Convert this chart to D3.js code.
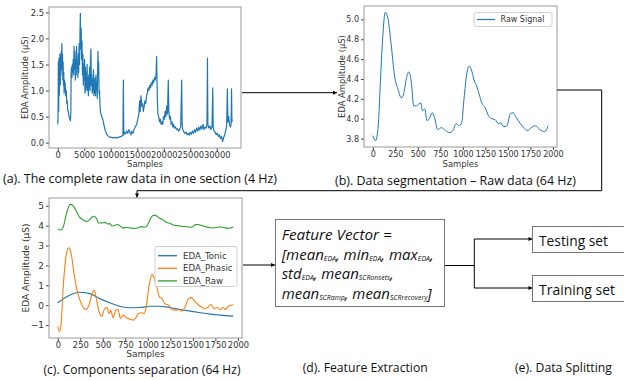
<!DOCTYPE html>
<html>
<head>
<meta charset="utf-8">
<script src="https://cdn.jsdelivr.net/npm/d3@7"></script>
<style>
  body { margin: 0; background: #fff; }
  svg { display: block; }
</style>
</head>
<body>
<div id="fig"></div>
<script>
// (a) whole record, 4 Hz  [sample, µS]
var fullRecord = [
  [0,0.35],[60,0.5],[120,1.55],[180,0.6],[240,1.62],[300,0.9],[360,1.45],[420,1.7],[480,1.1],[540,1.65],
  [600,1.3],[660,1.75],[720,1.5],[780,1.9],[840,1.4],[900,1.7],[960,1.2],[1020,1.55],[1080,1.1],[1140,1.35],
  [1200,0.95],[1260,1.2],[1320,1.0],[1400,1.15],[1500,0.9],[1600,1.0],[1700,0.75],[1800,0.8],[1900,0.62],[2000,0.6],
  [2100,0.52],[2200,0.48],[2300,0.45],[2400,0.42],[2480,0.6],[2520,1.3],[2600,1.45],[2680,1.25],[2760,1.5],[2840,1.35],
  [2920,1.6],[3000,1.3],[3080,1.85],[3160,1.4],[3240,1.75],[3320,1.2],[3400,1.6],[3480,1.3],[3560,1.85],[3640,1.45],
  [3720,1.55],[3800,1.25],[3880,1.7],[3960,1.35],[4040,1.9],[4120,1.5],[4200,2.1],[4270,2.48],[4340,1.8],[4420,2.2],
  [4500,1.6],[4580,1.95],[4660,1.3],[4740,1.7],[4820,1.1],[4900,1.5],[4980,1.2],[5060,1.6],[5140,0.95],[5220,1.45],
  [5300,1.0],[5380,1.35],[5460,1.05],[5540,1.5],[5620,1.0],[5700,1.25],[5780,0.9],[5860,1.3],[5940,1.05],[6020,1.45],
  [6100,1.0],[6180,1.6],[6260,1.8],[6340,1.1],[6420,1.3],[6500,0.95],[6580,1.2],[6660,1.0],[6740,1.4],[6820,0.9],
  [6900,1.2],[6980,0.95],[7060,1.25],[7140,0.9],[7220,1.3],[7300,1.0],[7380,1.15],[7460,0.85],[7540,1.45],[7600,1.75],
  [7660,1.3],[7720,1.55],[7800,0.95],[7880,1.0],[7960,0.75],[8040,0.6],[8150,0.55],[8300,0.5],[8500,0.45],[8700,0.35],
  [8900,0.25],[9100,0.2],[9300,0.15],[9600,0.12],[9900,0.1],[10200,0.1],[10500,0.09],[10800,0.1],[11100,0.09],[11400,0.1],
  [11700,0.11],[12000,0.12],[12300,0.14],[12380,1.2],[12460,0.15],[12600,0.2],[12800,0.17],[13000,0.22],[13200,0.18],[13400,0.25],
  [13600,0.2],[13800,0.15],[14000,0.22],[14200,0.18],[14400,0.25],[14600,0.3],[14900,0.35],[15100,0.45],[15300,0.55],[15450,0.8],
  [15550,0.6],[15700,0.9],[15850,0.7],[16000,0.75],[16150,0.6],[16300,0.7],[16450,0.8],[16600,0.75],[16750,0.9],[16900,0.95],
  [17050,1.05],[17200,1.0],[17350,1.1],[17500,1.05],[17650,1.15],[17800,1.1],[17950,1.2],[18100,1.15],[18250,1.25],[18400,1.2],
  [18550,1.3],[18650,1.65],[18720,1.25],[18800,0.8],[18900,0.55],[19050,0.5],[19200,0.4],[19350,0.45],[19500,0.35],[19650,0.4],
  [19800,0.35],[19950,0.5],[20100,0.45],[20250,0.6],[20400,0.5],[20550,0.7],[20700,0.55],[20850,1.2],[20950,0.6],[21100,0.45],
  [21250,0.5],[21400,0.35],[21550,0.4],[21700,0.3],[21850,0.35],[22000,0.28],[22200,0.3],[22400,0.25],[22600,0.27],[22800,0.22],
  [23000,0.25],[23200,0.3],[23380,1.2],[23460,0.35],[23600,0.25],[23800,0.2],[24000,0.18],[24200,0.2],[24400,0.15],[24600,0.18],
  [24800,0.14],[25000,0.2],[25200,0.16],[25400,0.22],[25600,0.18],[25800,0.25],[26000,0.2],[26200,0.28],[26400,0.22],[26600,0.3],
  [26800,0.24],[27000,0.32],[27200,0.26],[27400,0.35],[27600,0.25],[27800,0.3],[28000,0.28],[28150,0.35],[28240,1.62],[28320,0.35],
  [28500,0.28],[28700,0.32],[28900,0.25],[29100,0.3],[29240,1.05],[29320,0.3],[29500,0.22],[29700,0.2],[29900,0.15],[30100,0.18],
  [30300,0.12],[30500,0.15],[30700,0.08],[30900,0.12],[31100,0.02],[31300,0.1],[31500,0.15],[31700,0.25],[31850,0.3],[32000,1.03],
  [32100,0.4],[32250,0.5],[32400,0.35],[32550,0.3],[32700,0.35],[32780,1.03],[32850,0.4],[32920,0.45]
];

// (b)/(c) one segment, 64 Hz
var segIdx = [0,30,56,93,112,138,168,205,242,279,317,343,372,398,428,454,484,514,533,551,
  577,603,633,659,689,719,763,808,857,894,924,961,987,1013,1043,1069,1099,1128,1154,1180,
  1210,1248,1285,1322,1359,1397,1423,1452,1490,1527,1557,1594,1639,1676,1720,1758,1806,1855,1907,1948];
var segRaw = [3.83,3.78,3.88,4.53,4.84,5.07,5.01,4.74,4.43,4.30,4.21,4.25,4.40,4.47,4.37,4.13,4.13,4.15,4.16,4.08,
  4.10,3.98,4.01,4.06,4.00,3.89,3.91,3.88,3.86,3.89,3.95,3.93,3.96,4.20,4.45,4.53,4.48,4.38,4.33,4.25,
  4.16,4.11,4.03,4.00,3.99,3.95,3.96,3.92,3.93,4.05,4.06,4.01,3.95,3.91,3.88,3.91,3.93,3.89,3.87,3.93];

var phIdx = [0,19,37,63,93,123,149,186,223,261,309,346,380,402,428,458,488,521,547,570,
  588,614,644,670,696,726,763,801,838,868,894,931,961,987,1017,1047,1073,1099,1128,1158,
  1188,1229,1266,1303,1341,1378,1415,1452,1482,1516,1553,1590,1627,1665,1702,1732,1769,1806,1836,1862,1888,1948];
var phVal = [-1.08,-1.33,-0.92,1.08,2.5,2.88,2.58,1.42,0.58,0.08,-0.22,0,0.58,0.78,0.33,-0.33,-0.55,-0.17,-0.12,-0.42,
  -0.25,-0.63,-0.25,-0.22,-0.67,-0.5,-0.63,-0.7,-0.75,-0.62,-0.42,-0.38,-0.42,0.08,1.08,1.55,1.33,0.92,0.42,0.33,
  0.08,0,-0.22,-0.25,-0.22,-0.3,-0.08,0.33,0.38,0.22,0.05,-0.08,-0.17,-0.12,0.05,-0.17,-0.12,-0.22,-0.12,-0.22,-0.08,0.02];

var toIdx = [0,130,242,354,466,577,689,801,912,1024,1136,1248,1359,1471,1583,1694,1806,1948];
var toVal = [0.12,0.5,0.65,0.58,0.33,0.12,-0.05,-0.13,-0.12,-0.05,-0.05,-0.12,-0.22,-0.3,-0.38,-0.45,-0.5,-0.55];

var aXTicks = [0,5000,10000,15000,20000,25000,30000];
var aYTicks = [0,0.5,1,1.5,2,2.5];
var segXTicks = [0,250,500,750,1000,1250,1500,1750,2000];
var bYTicks = [3.8,4.0,4.2,4.4,4.6,4.8,5.0];
var cYTicks = [-1,0,1,2,3,4,5];
var compNames = ["EDA_Tonic","EDA_Phasic","EDA_Raw"];

var W = 624, H = 380;
var blue = "#1f77b4", orange = "#ff7f0e", green = "#2ca02c";

var svg = d3.select("#fig").append("svg")
    .attr("width", W)
    .attr("height", H)
    .style("font-family", "'DejaVu Sans', sans-serif");

svg.append("defs").append("marker")
    .attr("id", "head")
    .attr("viewBox", "0 0 6 6")
    .attr("refX", 6).attr("refY", 3)
    .attr("markerWidth", 5).attr("markerHeight", 4)
    .attr("markerUnits", "userSpaceOnUse")
    .attr("orient", "auto")
  .append("path")
    .attr("d", "M0,0L6,3L0,6Z")
    .attr("fill", "#000");

// matplotlib-like 5% margins
function padded(ext) {
  var p = (ext[1] - ext[0]) * 0.05;
  return [ext[0] - p, ext[1] + p];
}

function panel(o) {
  var g = svg.append("g");
  var xs = [], ys = [];
  o.series.forEach(function(s) { s.pts.forEach(function(p){ xs.push(p[0]); ys.push(p[1]); }); });

  var x = d3.scaleLinear().domain(padded(d3.extent(xs))).range([o.left, o.right]);
  var y = d3.scaleLinear().domain(padded(d3.extent(ys))).range([o.bottom, o.top]);

  var line = d3.line()
      .x(function(d){ return x(d[0]); })
      .y(function(d){ return y(d[1]); })
      .curve(o.curve || d3.curveLinear);

  o.series.forEach(function(s) {
    g.append("path")
      .datum(s.pts)
      .attr("d", line)
      .attr("fill", "none")
      .attr("stroke", s.color)
      .attr("stroke-width", s.width || 1.1)
      .attr("stroke-linejoin", "round");
  });

  var xa = g.append("g")
      .attr("transform", "translate(0," + o.bottom + ")")
      .call(d3.axisBottom(x).tickValues(o.xTicks).tickSize(3).tickPadding(1).tickFormat(d3.format("d")));
  var ya = g.append("g")
      .attr("transform", "translate(" + o.left + ",0)")
      .call(d3.axisLeft(y).tickValues(o.yTicks).tickSize(3).tickPadding(2).tickFormat(d3.format(o.yFmt)));

  [xa, ya].forEach(function(a) {
    a.select(".domain").remove();
    a.selectAll("line").attr("stroke", "#444");
    a.selectAll("text").attr("fill", "#333").style("font-family", "'DejaVu Sans', sans-serif");
  });
  xa.selectAll("text").style("font-size", o.tickFont + "px");
  ya.selectAll("text").style("font-size", (o.yTickFont || o.tickFont) + "px");

  g.append("rect")
    .attr("x", o.left).attr("y", o.top)
    .attr("width", o.right - o.left).attr("height", o.bottom - o.top)
    .attr("fill", "none")
    .attr("stroke", "#9a9a9a");

  g.append("text")
    .attr("x", (o.left + o.right) / 2)
    .attr("y", o.xLabelY)
    .attr("text-anchor", "middle")
    .style("font-size", o.labelFont + "px")
    .attr("fill", "#333")
    .text("Samples");

  g.append("text")
    .attr("transform", "translate(" + o.yLabelX + "," + (o.top + o.bottom) / 2 + ") rotate(-90)")
    .attr("text-anchor", "middle")
    .attr("dy", "0.35em")
    .style("font-size", o.labelFont + "px")
    .attr("fill", "#333")
    .text("EDA Amplitude (µS)");

  return g;
}

var segPts = d3.zip(segIdx, segRaw);

// (a)
panel({
  left: 49, right: 241, top: 7, bottom: 148,
  series: [{ pts: fullRecord, color: blue, width: 1.2 }],
  xTicks: aXTicks, yTicks: aYTicks, yFmt: ".1f",
  tickFont: 8.4, labelFont: 8.4, xLabelY: 167, yLabelX: 25
});

// (b)
var gb = panel({
  left: 364, right: 557, top: 6, bottom: 147,
  series: [{ pts: segPts, color: blue, width: 1 }],
  curve: d3.curveMonotoneX,
  xTicks: segXTicks, yTicks: bYTicks, yFmt: ".1f",
  tickFont: 8, labelFont: 8.4, xLabelY: 167, yLabelX: 342
});
gb.append("rect").attr("x", 474).attr("y", 12.5).attr("width", 78).attr("height", 14)
  .attr("rx", 2).attr("fill", "#fff").attr("stroke", "#d0d0d0");
gb.append("line").attr("x1", 477).attr("x2", 495).attr("y1", 19.5).attr("y2", 19.5)
  .attr("stroke", blue).attr("stroke-width", 1.2);
gb.append("text").attr("x", 500.5).attr("y", 19.5).attr("dy", "0.35em")
  .style("font-size", "8px").attr("fill", "#333").text("Raw Signal");

// (c)
var comps = [
  { pts: d3.zip(toIdx, toVal), color: blue },
  { pts: d3.zip(phIdx, phVal), color: orange },
  { pts: segPts, color: green }
];
var gc = panel({
  left: 49, right: 242, top: 198, bottom: 338,
  series: comps,
  curve: d3.curveMonotoneX,
  xTicks: segXTicks, yTicks: cYTicks, yFmt: "d",
  tickFont: 8.3, yTickFont: 9, labelFont: 9, xLabelY: 357, yLabelX: 26
});
gc.append("rect").attr("x", 155).attr("y", 246.5).attr("width", 82).attr("height", 40)
  .attr("rx", 2).attr("fill", "#fff").attr("fill-opacity", 0.85).attr("stroke", "#d0d0d0");
compNames.forEach(function(name, i) {
  var yy = 255.7 + i * 12.6;
  gc.append("line").attr("x1", 158).attr("x2", 177).attr("y1", yy).attr("y2", yy)
    .attr("stroke", comps[i].color).attr("stroke-width", 1.3);
  gc.append("text").attr("x", 183).attr("y", yy).attr("dy", "0.35em")
    .style("font-size", "8.6px").attr("fill", "#333").text(name);
});

// connectors
function arrow(points, head) {
  svg.append("path")
    .attr("d", d3.line()(points))
    .attr("fill", "none")
    .attr("stroke", "#000")
    .attr("stroke-width", 1)
    .attr("marker-end", head ? "url(#head)" : null);
}
arrow([[242, 92.7], [337, 92.7]], true);
arrow([[557, 90], [601.7, 90], [601.7, 190.7], [137, 190.7], [137, 197.5]], true);
arrow([[243, 265], [275, 265]], true);
arrow([[445, 265.5], [474.3, 265.5]], false);
arrow([[474.3, 239], [474.3, 288]], false);
arrow([[474.3, 239], [532.5, 239]], true);
arrow([[474.3, 288], [532.5, 288]], true);

// feature box
svg.append("rect").attr("x", 275.5).attr("y", 219.5).attr("width", 169).attr("height", 87)
  .attr("fill", "#fff").attr("stroke", "#777");

var sans = "'Open Sans', 'Liberation Sans', sans-serif";
var fvLines = [
  { y: 240,   w: 110, parts: [["Feature Vector =", 0]] },
  { y: 259.5, w: 152, parts: [["[mean",0],["EDA",1],[", min",0],["EDA",1],[", max",0],["EDA",1],[",",0]] },
  { y: 279,   w: 112, parts: [["std",0],["EDA",1],[", mean",0],["SCRonsets",1],[",",0]] },
  { y: 298.5, w: 150, parts: [["mean",0],["SCRamp",1],[", mean",0],["SCRrecovery",1],["]",0]] }
];
fvLines.forEach(function(l) {
  var t = svg.append("text")
    .attr("x", 281.7).attr("y", l.y)
    .attr("textLength", l.w).attr("lengthAdjust", "spacingAndGlyphs")
    .style("font-family", sans).style("font-style", "italic")
    .style("font-size", "14px").attr("fill", "#111");
  l.parts.forEach(function(p) {
    t.append("tspan")
      .style("font-size", p[1] ? "6.5px" : "14px")
      .attr("baseline-shift", p[1] ? "-1" : null)
      .text(p[0]);
  });
});

// split boxes
[["Testing set", 226, 245.5, 69], ["Training set", 275, 295, 76]].forEach(function(b) {
  svg.append("rect").attr("x", 532.5).attr("y", b[1] + 0.5).attr("width", 100).attr("height", 26)
    .attr("fill", "#fff").attr("stroke", "#777");
  svg.append("text").attr("x", 539).attr("y", b[2])
    .attr("textLength", b[3]).attr("lengthAdjust", "spacingAndGlyphs")
    .style("font-family", sans).style("font-size", "14px").attr("fill", "#111")
    .text(b[0]);
});

// captions
var captions = [
  ["(a). The complete raw data in one section (4 Hz)", 3, 183, 274, 13.5],
  ["(b). Data segmentation \u2013 Raw data (64 Hz)", 335, 185, 241, 13.5],
  ["(c). Components separation (64 Hz)", 43.5, 373.5, 197, 13],
  ["(d). Feature Extraction", 302.7, 371.5, 125, 13.5],
  ["(e). Data Splitting", 515, 371.5, 97, 13.5]
];
captions.forEach(function(c) {
  svg.append("text")
    .attr("x", c[1]).attr("y", c[2])
    .attr("textLength", c[3]).attr("lengthAdjust", "spacingAndGlyphs")
    .style("font-family", sans).style("font-size", c[4] + "px").attr("fill", "#111")
    .text(c[0]);
});
</script>
</body>
</html>
